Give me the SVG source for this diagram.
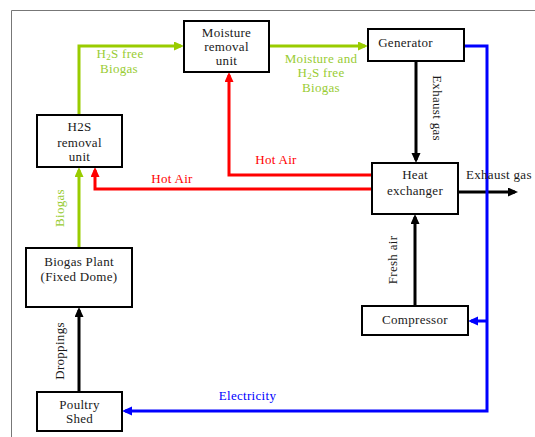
<svg xmlns="http://www.w3.org/2000/svg" width="535" height="437" viewBox="0 0 535 437">
<style>
.box{fill:#fff;stroke:#000;stroke-width:2}
.t{font-family:"Liberation Serif","Times New Roman",serif;font-size:13px;letter-spacing:0.3px;fill:#1a1a1a;text-anchor:middle}
.g{fill:#99cc33}
.r{fill:#ff0000}
.b{fill:#0000ff}
.c{fill:none;stroke-width:3}
.cg{stroke:#99cc00}
.ck{stroke:#000}
.cr{stroke:#ff0000}
.cb{stroke:#0000ff}
</style>
<defs>
<marker id="ag" markerUnits="userSpaceOnUse" markerWidth="10" markerHeight="10" refX="7" refY="4.5" orient="auto"><path d="M0,0 L10,4.5 L0,9 z" fill="#99cc00"/></marker>
<marker id="ak" markerUnits="userSpaceOnUse" markerWidth="10" markerHeight="10" refX="7" refY="4.5" orient="auto"><path d="M0,0 L10,4.5 L0,9 z" fill="#000"/></marker>
<marker id="ar" markerUnits="userSpaceOnUse" markerWidth="10" markerHeight="10" refX="7" refY="4.5" orient="auto"><path d="M0,0 L10,4.5 L0,9 z" fill="#ff0000"/></marker>
<marker id="ab" markerUnits="userSpaceOnUse" markerWidth="10" markerHeight="10" refX="7" refY="4.5" orient="auto"><path d="M0,0 L10,4.5 L0,9 z" fill="#0000ff"/></marker>
</defs>
<rect width="535" height="437" fill="#fff"/>
<path d="M11.5,437 V10.5 H535" fill="none" stroke="#777" stroke-width="1"/>

<g id="connectors">
<path class="c cg" d="M79,115 V46 H181" marker-end="url(#ag)"/>
<path class="c cg" d="M269,46 H365" marker-end="url(#ag)"/>
<path class="c cg" d="M79,248 V170" marker-end="url(#ag)"/>
<path class="c ck" d="M79,392 V310" marker-end="url(#ak)"/>
<path class="c ck" d="M416,61 V160" marker-end="url(#ak)"/>
<path class="c ck" d="M458,192 H515" marker-end="url(#ak)"/>
<path class="c ck" d="M415,306 V217" marker-end="url(#ak)"/>
<path class="c cr" d="M372,175 H229 V75" marker-end="url(#ar)"/>
<path class="c cr" d="M372,189 H95 V170" marker-end="url(#ar)"/>
<path class="c cb" d="M464,46 H487 V411 H125" marker-end="url(#ab)"/>
<path class="c cb" d="M487,321 H471" marker-end="url(#ab)"/>
<text class="t g" x="120" y="58">H<tspan font-size="9" dy="2">2</tspan><tspan dy="-2">S free</tspan></text>
<text class="t g" x="119" y="73">Biogas</text>
<text class="t g" x="321" y="63">Moisture and</text>
<text class="t g" x="321" y="77">H<tspan font-size="9" dy="2">2</tspan><tspan dy="-2">S free</tspan></text>
<text class="t g" x="321" y="92">Biogas</text>
<text class="t r" x="276" y="164">Hot Air</text>
<text class="t r" x="172" y="183">Hot Air</text>
<text class="t" transform="translate(433,108) rotate(90)">Exhaust gas</text>
<text class="t" x="466" y="179" style="text-anchor:start">Exhaust gas</text>
<text class="t" transform="translate(397,260) rotate(-90)">Fresh air</text>
<text class="t" transform="translate(64,351) rotate(-90)">Droppings</text>
<text class="t g" transform="translate(64,208) rotate(-90)">Biogas</text>
<text class="t b" x="247.5" y="400">Electricity</text>
</g>

<g id="moisture">
<rect class="box" x="184" y="21" width="85" height="51"/>
<text class="t" x="226.5" y="37">Moisture</text>
<text class="t" x="226.5" y="51">removal</text>
<text class="t" x="226.5" y="65">unit</text>
</g>
<g id="h2s">
<rect class="box" x="37" y="115" width="85" height="52"/>
<text class="t" x="79.5" y="131">H2S</text>
<text class="t" x="79.5" y="147">removal</text>
<text class="t" x="79.5" y="161">unit</text>
</g>
<g id="generator">
<rect class="box" x="368" y="29" width="96" height="32"/>
<text class="t" x="405.5" y="47">Generator</text>
</g>
<g id="heatex">
<rect class="box" x="372" y="163" width="86" height="51"/>
<text class="t" x="415" y="179">Heat</text>
<text class="t" x="415" y="195">exchanger</text>
</g>
<g id="biogasplant">
<rect class="box" x="26" y="248" width="106" height="59"/>
<text class="t" x="79" y="266">Biogas Plant</text>
<text class="t" x="79" y="281">(Fixed Dome)</text>
</g>
<g id="poultry">
<rect class="box" x="37" y="392" width="85" height="39"/>
<text class="t" x="79.5" y="409">Poultry</text>
<text class="t" x="79.5" y="423">Shed</text>
</g>
<g id="compressor">
<rect class="box" x="362" y="306" width="106" height="29"/>
<text class="t" x="415" y="324">Compressor</text>
</g>
</svg>
